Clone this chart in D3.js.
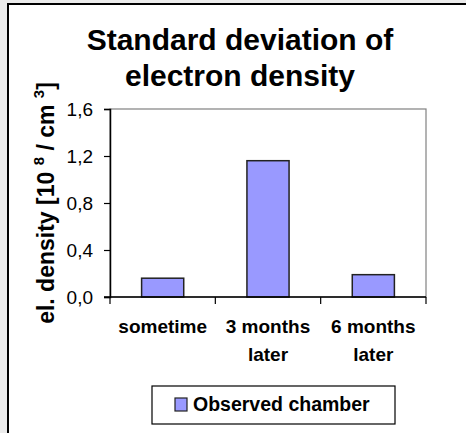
<!DOCTYPE html>
<html>
<head>
<meta charset="utf-8">
<style>
  body { margin: 0; background: #ebebeb; overflow: hidden; }
  svg { display: block; font-family: Arial, "Liberation Sans", sans-serif; }
</style>
</head>
<body>
<script src="https://cdn.jsdelivr.net/npm/d3@7"></script>
<script>
  var categories = [["sometime"], ["3 months", "later"], ["6 months", "later"]];
  var values = [0.16, 1.16, 0.19];
  var yTicks = [0, 0.4, 0.8, 1.2, 1.6];
  var titleLines = ["Standard deviation of", "electron density"];
  var seriesName = "Observed chamber";

  var width = 466, height = 433;
  var plot = {left: 110, right: 426, top: 109, bottom: 297};

  var svg = d3.select("body").append("svg").attr("width", width).attr("height", height);

  // chart frame (right and bottom edges fall outside the picture)
  svg.append("rect").attr("x", 0).attr("y", 0).attr("width", width).attr("height", height).attr("fill", "#ebebeb");
  svg.append("rect").attr("x", 8).attr("y", 4).attr("width", width + 20).attr("height", height + 20)
     .attr("fill", "#fff").attr("stroke", "#000").attr("stroke-width", 2);

  // title
  svg.append("text").attr("x", 240).attr("y", 50).attr("text-anchor", "middle")
     .style("font-size", "30px").style("font-weight", "bold")
     .selectAll("tspan").data(titleLines).enter().append("tspan")
     .attr("x", 240).attr("dy", function (d, i) { return i === 0 ? 0 : 36; })
     .text(function (d) { return d; });

  var x = d3.scaleBand().domain(d3.range(categories.length)).range([plot.left, plot.right]);
  var y = d3.scaleLinear().domain([0, 1.6]).range([plot.bottom, plot.top]);

  // plot area border
  svg.append("rect").attr("x", plot.left).attr("y", plot.top)
     .attr("width", plot.right - plot.left).attr("height", plot.bottom - plot.top)
     .attr("fill", "none").attr("stroke", "#808080").attr("stroke-width", 1.2);

  // bars
  var barW = x.bandwidth() * 0.4;
  svg.selectAll(".bar").data(values).enter().append("rect")
     .attr("class", "bar")
     .attr("x", function (d, i) { return x(i) + (x.bandwidth() - barW) / 2; })
     .attr("y", function (d) { return y(d); })
     .attr("width", barW)
     .attr("height", function (d) { return y(0) - y(d); })
     .attr("fill", "#9999ff").attr("stroke", "#222").attr("stroke-width", 1.5);

  // y axis
  var yAxis = svg.append("g").attr("transform", "translate(" + plot.left + ",0)")
     .call(d3.axisLeft(y).tickValues(yTicks).tickSize(6).tickPadding(11)
        .tickFormat(function (d) { return d3.format(".1f")(d).replace(".", ","); }));
  yAxis.select(".domain").attr("stroke", "#000").attr("stroke-width", 1.5);
  yAxis.selectAll("line").attr("stroke", "#000").attr("stroke-width", 1.2);
  yAxis.selectAll("text").style("font-size", "19px").style("font-family", "Arial, 'Liberation Sans', sans-serif").attr("fill", "#000");

  // x axis
  var xTickPos = d3.range(categories.length + 1).map(function (i) { return plot.left + i * x.step(); });
  svg.append("line").attr("x1", plot.left - 6).attr("x2", plot.right).attr("y1", plot.bottom).attr("y2", plot.bottom)
     .attr("stroke", "#000").attr("stroke-width", 1.5);
  svg.selectAll(".xtick").data(xTickPos).enter().append("line")
     .attr("x1", function (d) { return d; }).attr("x2", function (d) { return d; })
     .attr("y1", plot.bottom).attr("y2", plot.bottom + 7)
     .attr("stroke", "#000").attr("stroke-width", 1.2);

  svg.selectAll(".xlab").data(categories).enter().append("text")
     .attr("text-anchor", "middle").attr("y", 333)
     .style("font-size", "19px").style("font-weight", "bold")
     .each(function (d, i) {
       d3.select(this).selectAll("tspan").data(d).enter().append("tspan")
         .attr("x", x(i) + x.bandwidth() / 2)
         .attr("dy", function (t, j) { return j === 0 ? 0 : 28; })
         .text(function (t) { return t; });
     });

  // y axis title
  var yt = svg.append("text").attr("transform", "translate(54,203) rotate(-90)")
     .attr("text-anchor", "middle").style("font-size", "23px").style("font-weight", "bold");
  yt.append("tspan").text("el. density [10 ");
  yt.append("tspan").attr("dy", -10).style("font-size", "15px").text("8");
  yt.append("tspan").attr("dy", 10).text(" / cm ");
  yt.append("tspan").attr("dy", -10).style("font-size", "15px").text("3");
  yt.append("tspan").attr("dy", 10).text("]");

  // legend
  svg.append("rect").attr("x", 152).attr("y", 386).attr("width", 243).attr("height", 38)
     .attr("fill", "#fff").attr("stroke", "#000").attr("stroke-width", 1.2);
  svg.append("rect").attr("x", 175).attr("y", 398).attr("width", 12).attr("height", 13)
     .attr("fill", "#9999ff").attr("stroke", "#222").attr("stroke-width", 1.2);
  svg.append("text").attr("x", 193).attr("y", 411)
     .style("font-size", "19.5px").style("font-weight", "bold").text(seriesName);
</script>
</body>
</html>
